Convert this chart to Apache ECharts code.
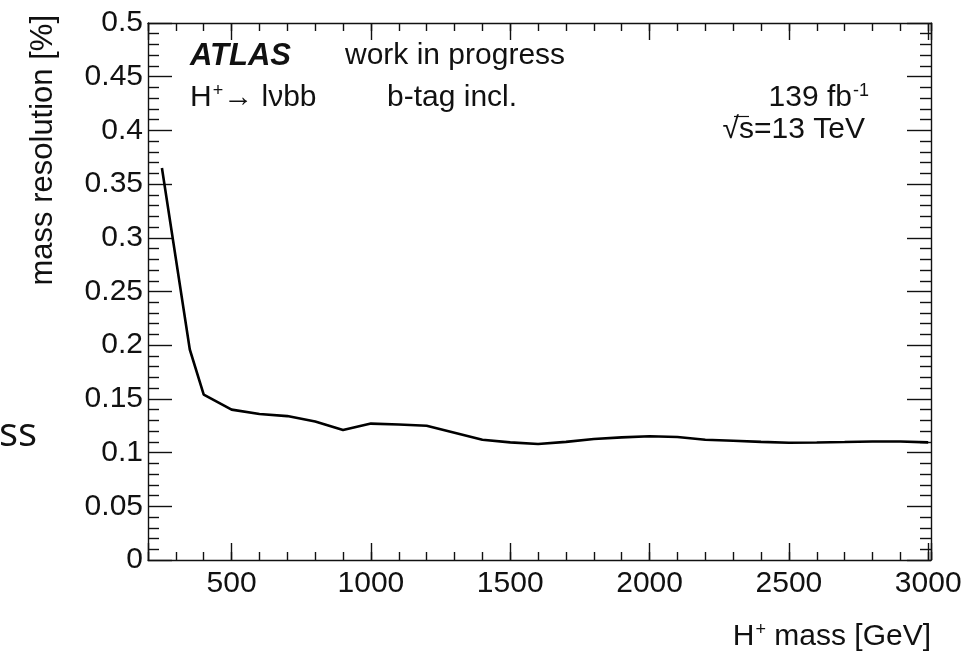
<!DOCTYPE html>
<html>
<head>
<meta charset="utf-8">
<script src="https://cdn.jsdelivr.net/npm/echarts@6/dist/echarts.min.js"></script>
<style>
  html, body { margin: 0; padding: 0; background: #fff; }
  #chart { width: 970px; height: 655px; }
</style>
</head>
<body>
<div id="chart"></div>
<script>
// H+ -> l nu b b : mass resolution versus charged Higgs mass
const massPoints = [250, 350, 400, 500, 600, 700, 800, 900, 1000, 1100, 1200, 1300, 1400,
  1500, 1600, 1700, 1800, 1900, 2000, 2100, 2200, 2300, 2400, 2500, 2600, 2700, 2800, 2900, 3000];
const resolution = [0.365, 0.196, 0.154, 0.140, 0.136, 0.134, 0.129, 0.121, 0.127, 0.1262, 0.125, 0.1185, 0.112,
  0.1095, 0.108, 0.110, 0.1127, 0.1142, 0.1152, 0.1145, 0.112, 0.111, 0.110, 0.1092, 0.1094, 0.1098, 0.1103, 0.1103, 0.1095];

const xRange = [200, 3010];
const yRange = [0, 0.5];
const yTitle = 'mass resolution [%]';

const FONT = '"Liberation Sans", Arial, Helvetica, sans-serif';
const INK = '#111';
const lineStyle = { color: INK, width: 1.4 };

const chart = echarts.init(document.getElementById('chart'), null, { renderer: 'canvas' });

// x axes come in pairs: a 100 GeV axis for the short ticks and an auto (500 GeV) one for the long ticks
function xAxisDef(position, withLabels, major) {
  const ax = {
    type: 'value',
    position: position,
    min: xRange[0],
    max: xRange[1],
    axisLine: { show: !major, lineStyle: lineStyle, onZero: false },
    axisTick: { show: true, inside: true, length: major ? 17 : 8, lineStyle: lineStyle },
    splitLine: { show: false },
    axisLabel: { show: false }
  };
  if (!major) ax.interval = 100;
  if (withLabels) {
    ax.axisLabel = {
      show: true,
      margin: 9,
      fontFamily: FONT,
      fontSize: 30,
      color: INK,
      formatter: v => (v % 500 === 0 ? String(v) : '')
    };
  }
  return ax;
}

function yAxisDef(position, withLabels) {
  return {
    type: 'value',
    position: position,
    min: yRange[0],
    max: yRange[1],
    interval: 0.05,
    axisLine: { show: true, lineStyle: lineStyle, onZero: false },
    axisTick: { show: true, inside: true, length: 24, lineStyle: lineStyle },
    minorTick: { show: true, splitNumber: 5, length: 11, lineStyle: lineStyle },
    splitLine: { show: false },
    minorSplitLine: { show: false },
    axisLabel: withLabels ? {
      show: true, margin: 5, fontFamily: FONT, fontSize: 30, color: INK
    } : { show: false }
  };
}

const supRich = {
  n: { fontFamily: FONT, fontSize: 30, fill: INK, color: INK, lineHeight: 34 },
  s: { fontFamily: FONT, fontSize: 18, fill: INK, color: INK, lineHeight: 34, verticalAlign: 'top', padding: [1, 0, 0, 1] }
};

function txt(x, y, text, opts) {
  return {
    type: 'text', x: x, y: y, silent: true,
    style: Object.assign({
      text: text, fontFamily: FONT, fontSize: 30, fill: INK,
      align: 'left', verticalAlign: 'middle'
    }, opts || {})
  };
}

const option = {
  animation: false,
  backgroundColor: '#fff',
  grid: { left: 148, top: 23, width: 783, height: 537, containLabel: false },
  xAxis: [
    xAxisDef('bottom', true, false),
    xAxisDef('bottom', false, true),
    xAxisDef('top', false, false),
    xAxisDef('top', false, true)
  ],
  yAxis: [
    yAxisDef('left', true),
    yAxisDef('right', false)
  ],
  series: [{
    type: 'line',
    xAxisIndex: 0,
    yAxisIndex: 0,
    data: massPoints.map((m, i) => [m, resolution[i]]),
    showSymbol: false,
    symbol: 'none',
    lineStyle: { color: '#000', width: 2.6 },
    z: 5
  }],
  graphic: [
    // partially visible word at the left edge
    txt(-1, 435, 'ss', { fontFamily: '"Open Sans", sans-serif', fontSize: 40, fill: '#111' }),
    // axis titles
    {
      type: 'text', x: 43, y: 15, rotation: Math.PI / 2, silent: true,
      style: { text: yTitle, fontFamily: FONT, fontSize: 31, fill: INK, align: 'right', verticalAlign: 'middle' }
    },
    {
      type: 'text', x: 931, y: 637, silent: true,
      style: {
        text: '{n|H}{s|+}{n| mass [GeV]}', rich: supRich,
        align: 'right', verticalAlign: 'middle'
      }
    },
    // labels inside the frame
    txt(190, 56, 'ATLAS', { fontWeight: 'bold', fontStyle: 'italic', fontSize: 31 }),
    txt(345, 56, 'work in progress'),
    {
      type: 'text', x: 190, y: 98, silent: true,
      style: { text: '{n|H}{s|+}{n|\u2192 l\u03bdbb}', rich: supRich, align: 'left', verticalAlign: 'middle' }
    },
    txt(387, 98, 'b-tag incl.'),
    {
      type: 'text', x: 869, y: 98, silent: true,
      style: { text: '{n|139 fb}{s|-1}', rich: supRich, align: 'right', verticalAlign: 'middle' }
    },
    txt(865, 130, '\u221as=13 TeV', { align: 'right' }),
    // bar of the square root over "s"
    {
      type: 'line', silent: true,
      shape: { x1: 734, y1: 116.5, x2: 749, y2: 116.5 },
      style: { stroke: INK, lineWidth: 1.2 }
    }
  ]
};

chart.setOption(option);
</script>
</body>
</html>
